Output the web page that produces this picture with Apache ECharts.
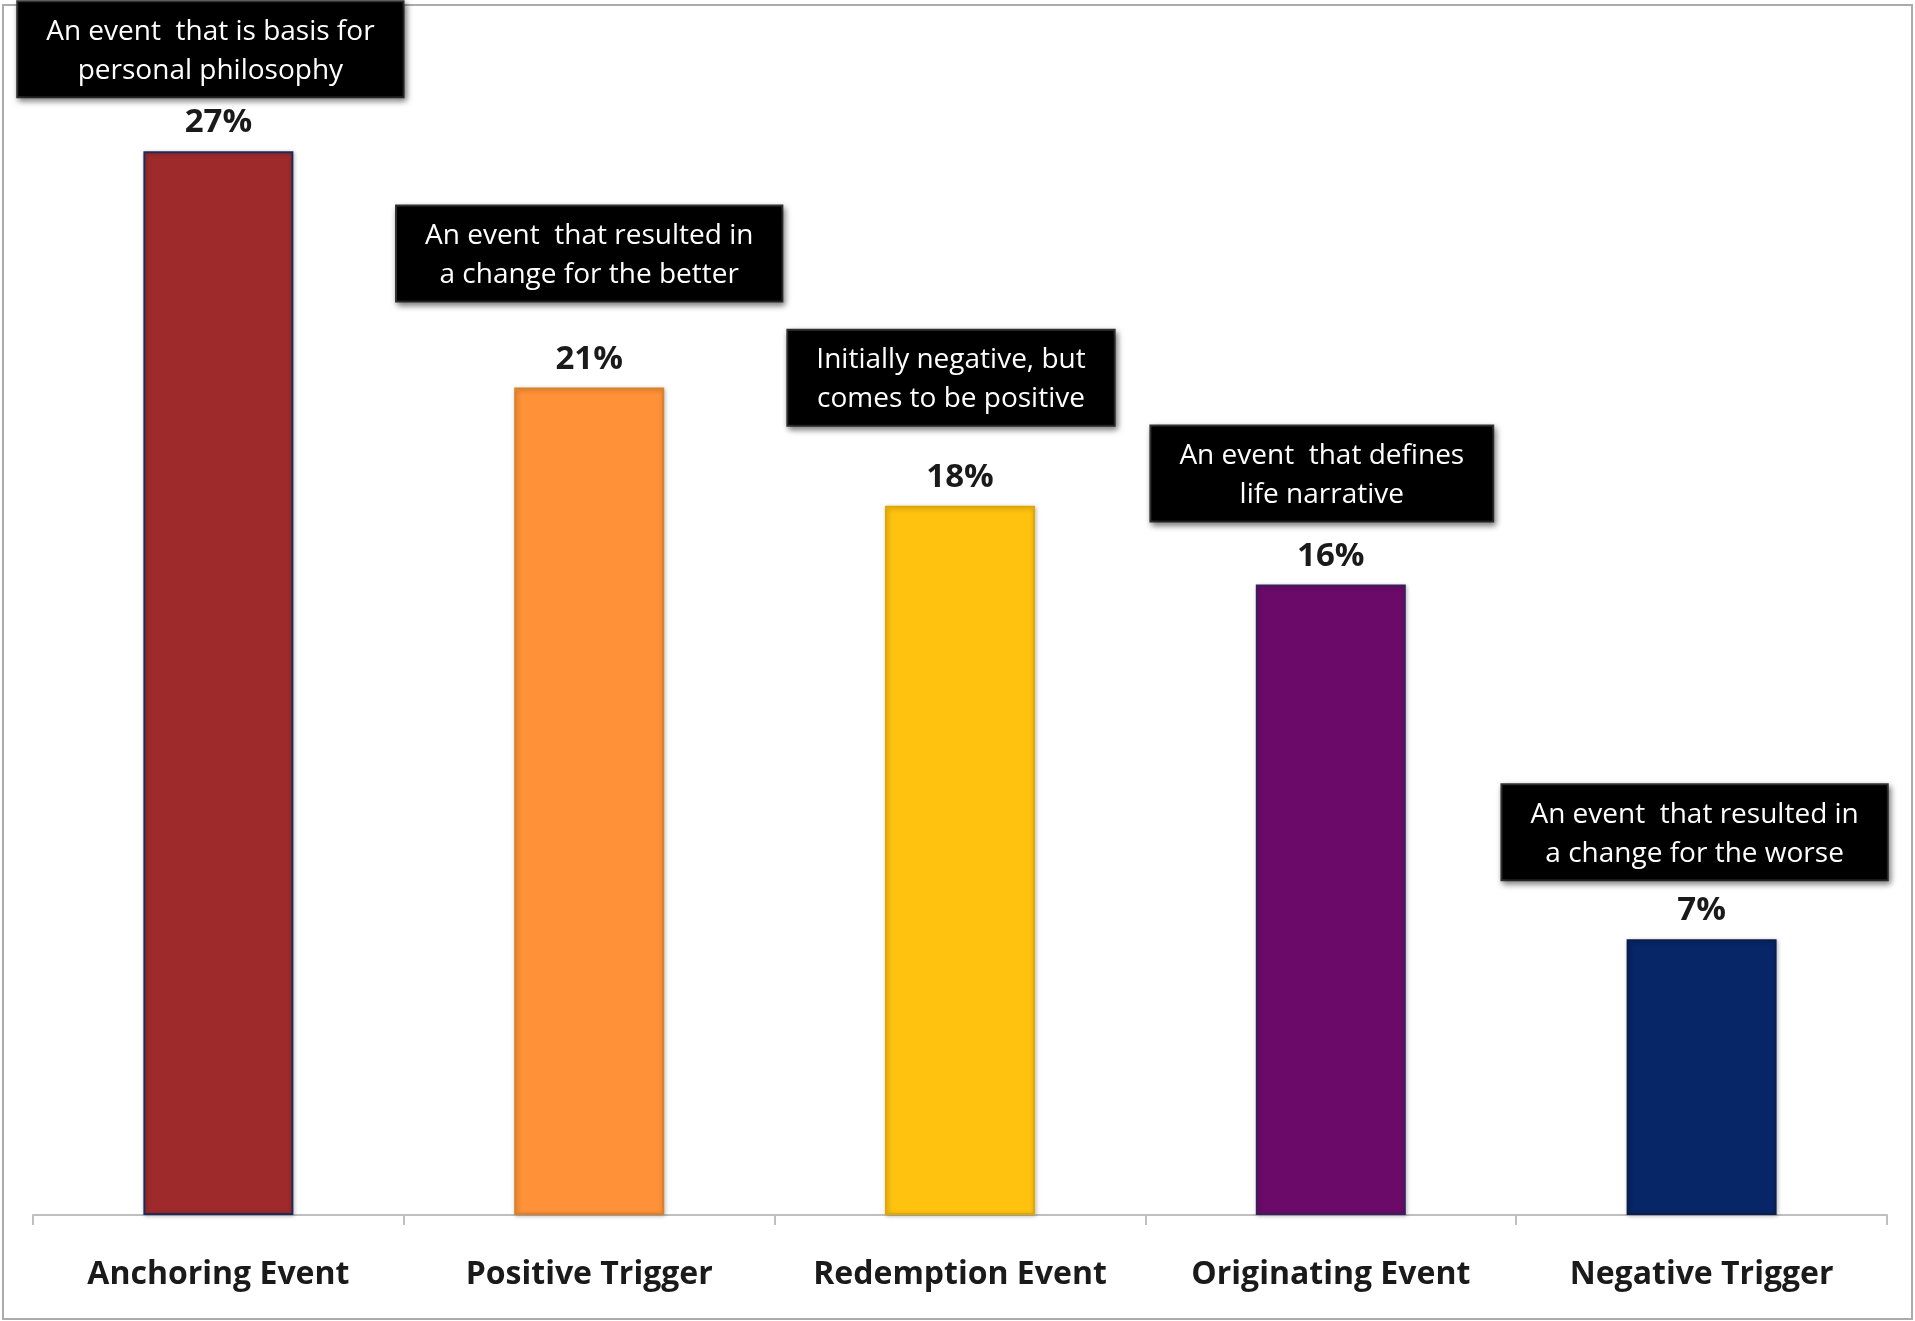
<!DOCTYPE html>
<html>
<head>
<meta charset="utf-8">
<script src="https://cdn.jsdelivr.net/npm/echarts@6/dist/echarts.min.js"></script>
<style>
  html, body { margin: 0; padding: 0; background: #fff; }
  #chart { width: 1915px; height: 1321px; }
</style>
</head>
<body>
<div id="chart"></div>
<script>
const categories = ['Anchoring Event', 'Positive Trigger', 'Redemption Event', 'Originating Event', 'Negative Trigger'];
const percents = [27, 21, 18, 16, 7];
const notes = [
  'An event  that is basis for\npersonal philosophy',
  'An event  that resulted in\na change for the better',
  'Initially negative, but\ncomes to be positive',
  'An event  that defines\nlife narrative',
  'An event  that resulted in\na change for the worse'
];
const barColors = ['#9E2A2B', '#FF9138', '#FFC20F', '#6C0A69', '#072667'];
const barBorders = ['#1F2A5A', '#D9822B', '#E0A800', '#3A1E5E', '#0A1E4E'];
// note box placement relative to the bar top: [dx, lift]
const noteShift = [[-8, 55], [0, 87], [-9, 81], [-9, 64], [-7, 60]];

const font = '"Open Sans", Lato, sans-serif';

const chart = echarts.init(document.getElementById('chart'));

const option = {
  animation: false,
  textStyle: { fontFamily: font },
  graphic: [
    {
      type: 'rect',
      shape: { x: 3, y: 5, width: 1909, height: 1314 },
      style: { fill: 'none', stroke: '#ABABAB', lineWidth: 2 },
      silent: true
    }
  ],
  grid: { left: 33, right: 28, top: 33, bottom: 106 },
  xAxis: {
    type: 'category',
    data: categories,
    axisLine: { lineStyle: { color: '#BFBFBF', width: 2 } },
    axisTick: { show: true, interval: 0, length: 10, lineStyle: { color: '#BFBFBF', width: 2 } },
    axisLabel: {
      interval: 0,
      hideOverlap: false,
      margin: 44,
      color: '#1a1a1a',
      fontSize: 32,
      fontWeight: 'bold',
      fontFamily: font
    }
  },
  yAxis: {
    type: 'value',
    min: 0,
    max: 30,
    show: false,
    splitLine: { show: false }
  },
  series: [
    {
      type: 'bar',
      barWidth: 150,
      data: percents.map((v, i) => ({
        value: v,
        itemStyle: {
          color: barColors[i],
          borderColor: barBorders[i],
          borderWidth: 2,
          shadowColor: 'rgba(0,0,0,0.25)',
          shadowBlur: 4,
          shadowOffsetX: 1,
          shadowOffsetY: 1
        }
      })),
      label: {
        show: true,
        position: 'top',
        distance: 12,
        formatter: '{c}%',
        color: '#1a1a1a',
        fontSize: 33,
        fontWeight: 'bold',
        fontFamily: font
      }
    },
    {
      type: 'scatter',
      symbolSize: 0,
      silent: true,
      z: 5,
      itemStyle: { opacity: 1 },
      data: percents.map((v, i) => ({
        value: v,
        label: {
          show: true,
          position: 'top',
          distance: 0,
          offset: [noteShift[i][0], -noteShift[i][1]],
          formatter: notes[i]
        }
      })),
      label: {
        color: '#ffffff',
        fontSize: 28,
        lineHeight: 39,
        align: 'center',
        fontFamily: font,
        backgroundColor: '#000000',
        borderColor: '#333333',
        borderWidth: 2,
        padding: [10, 28, 6, 28],
        shadowColor: 'rgba(0,0,0,0.45)',
        shadowBlur: 6,
        shadowOffsetX: 2,
        shadowOffsetY: 3
      }
    }
  ]
};

chart.setOption(option);
</script>
</body>
</html>
